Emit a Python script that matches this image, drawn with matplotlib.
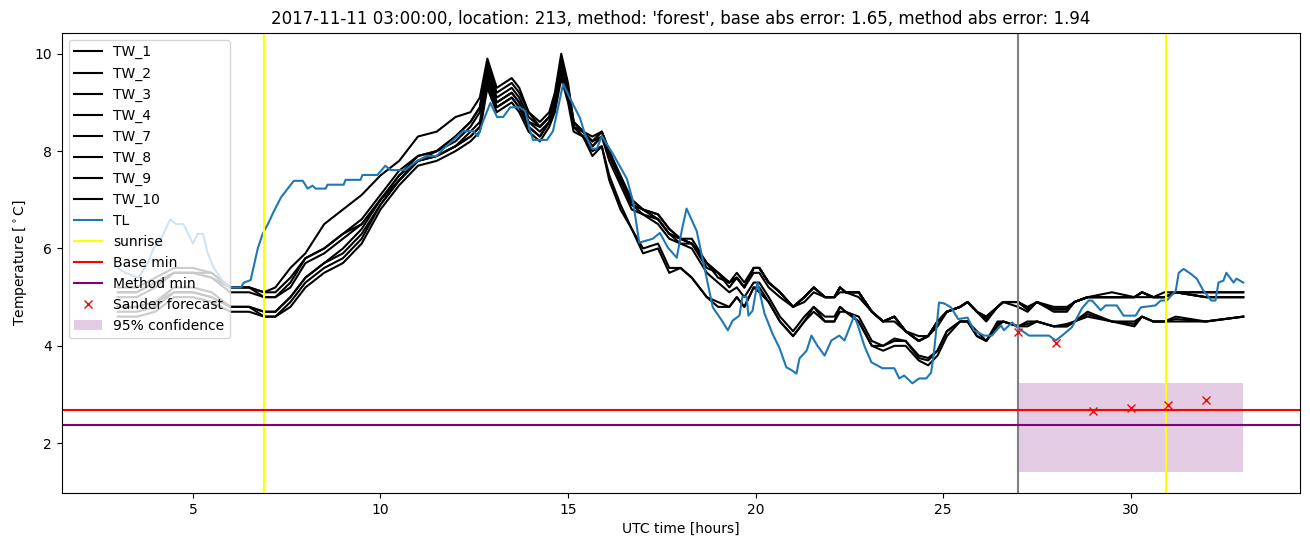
import numpy as np
import matplotlib
matplotlib.use("Agg")
import matplotlib.pyplot as plt

# time grid (hours UTC) shared by the TW series
tw_hours = [3.0, 3.5, 4.0, 4.5, 5.0, 5.5, 6.0, 6.5, 6.9, 7.2,
            7.6, 8.0, 8.5, 9.0, 9.5, 10.0, 10.5, 11.0, 11.5, 12.0,
            12.4, 12.65, 12.85, 13.1, 13.3, 13.5, 13.7, 13.95, 14.25, 14.5,
            14.65, 14.82, 15.0, 15.15, 15.4, 15.65, 15.9, 16.1, 16.4, 16.7,
            17.0, 17.4, 17.7, 18.0, 18.3, 18.7, 19.0, 19.3, 19.5, 19.7,
            19.95, 20.1, 20.35, 20.65, 21.0, 21.3, 21.55, 21.85, 22.1, 22.25,
            22.4, 22.75, 23.1, 23.4, 23.7, 24.0, 24.35, 24.6, 24.85, 25.1,
            25.45, 25.65, 25.9, 26.15, 26.45, 26.6, 27.0, 27.25, 27.5, 27.95,
            28.3, 28.5, 28.85, 29.5, 30.1, 30.3, 30.6, 30.9, 31.2, 32.0,
            33.0]

tw_1 = [5.1, 5.1, 5.3, 5.5, 5.5, 5.5, 5.2, 5.2, 5.1, 5.2,
        5.6, 5.9, 6.5, 6.8, 7.1, 7.5, 7.8, 8.3, 8.4, 8.7,
        8.8, 9.1, 9.9, 9.3, 9.4, 9.5, 9.3, 8.8, 8.6, 8.8,
        9.2, 10.0, 9.4, 8.6, 8.4, 8.3, 8.4, 8.0, 7.5, 7.0,
        6.8, 6.7, 6.4, 6.2, 6.2, 5.7, 5.5, 5.2, 5.4, 5.2,
        5.6, 5.6, 5.3, 5.1, 4.8, 5.0, 5.2, 5.0, 5.0, 5.2,
        5.1, 5.1, 4.7, 4.5, 4.6, 4.3, 4.1, 4.2, 4.5, 4.7,
        4.8, 4.9, 4.7, 4.6, 4.8, 4.9, 4.9, 4.75, 4.9, 4.75,
        4.75, 4.9, 5.0, 5.1, 5.0, 5.1, 5.0, 5.1, 5.1, 5.1,
        5.1]
tw_2 = [5.0, 5.0, 5.2, 5.5, 5.5, 5.4, 5.2, 5.2, 5.0, 5.0,
        5.3, 5.8, 6.0, 6.3, 6.6, 7.1, 7.6, 7.9, 8.0, 8.3,
        8.6, 8.9, 9.7, 9.1, 9.2, 9.3, 9.1, 8.7, 8.5, 8.7,
        9.1, 9.9, 9.3, 8.6, 8.4, 8.2, 8.4, 8.0, 7.4, 6.9,
        6.8, 6.6, 6.3, 6.2, 6.1, 5.7, 5.5, 5.3, 5.4, 5.2,
        5.6, 5.6, 5.3, 5.1, 4.8, 5.0, 5.2, 5.0, 5.0, 5.2,
        5.1, 5.1, 4.7, 4.5, 4.6, 4.3, 4.1, 4.2, 4.5, 4.7,
        4.8, 4.9, 4.7, 4.55, 4.8, 4.9, 4.9, 4.75, 4.9, 4.75,
        4.75, 4.9, 5.0, 5.0, 5.0, 5.1, 5.0, 5.0, 5.1, 5.0,
        5.0]
tw_3 = [5.1, 5.1, 5.3, 5.5, 5.5, 5.4, 5.1, 5.1, 5.0, 5.0,
        5.2, 5.7, 5.9, 6.2, 6.5, 7.0, 7.5, 7.8, 8.0, 8.2,
        8.5, 8.8, 9.6, 9.0, 9.1, 9.2, 9.0, 8.6, 8.5, 8.7,
        9.0, 9.8, 9.2, 8.5, 8.4, 8.2, 8.3, 7.9, 7.4, 6.9,
        6.7, 6.6, 6.3, 6.1, 6.1, 5.7, 5.4, 5.3, 5.4, 5.2,
        5.5, 5.5, 5.2, 5.0, 4.8, 4.9, 5.1, 5.0, 5.0, 5.1,
        5.1, 5.0, 4.7, 4.5, 4.5, 4.3, 4.1, 4.2, 4.4, 4.7,
        4.8, 4.9, 4.7, 4.5, 4.8, 4.9, 4.8, 4.7, 4.9, 4.7,
        4.7, 4.9, 5.0, 5.0, 5.0, 5.0, 5.0, 5.0, 5.1, 5.0,
        5.0]
tw_4 = [4.8, 4.8, 4.9, 5.2, 5.2, 5.1, 4.8, 4.8, 4.7, 4.7,
        5.0, 5.4, 5.7, 5.9, 6.3, 6.9, 7.4, 7.8, 7.9, 8.1,
        8.3, 8.5, 9.4, 8.9, 9.0, 9.1, 8.9, 8.5, 8.3, 8.6,
        8.9, 9.6, 9.1, 8.5, 8.3, 8.1, 8.3, 7.9, 7.4, 6.9,
        6.8, 6.6, 6.3, 6.2, 6.1, 5.6, 5.5, 5.3, 5.4, 5.2,
        5.6, 5.6, 5.3, 5.1, 4.8, 5.0, 5.2, 5.0, 5.0, 5.2,
        5.1, 5.1, 4.7, 4.5, 4.6, 4.3, 4.1, 4.2, 4.5, 4.7,
        4.8, 4.9, 4.7, 4.55, 4.8, 4.9, 4.9, 4.75, 4.9, 4.75,
        4.75, 4.9, 5.0, 5.0, 5.0, 5.1, 5.0, 5.0, 5.1, 5.0,
        5.0]
tw_7 = [4.7, 4.7, 4.8, 5.1, 5.1, 5.0, 4.8, 4.8, 4.6, 4.6,
        4.9, 5.3, 5.6, 5.8, 6.2, 6.9, 7.4, 7.8, 7.9, 8.1,
        8.3, 8.5, 9.4, 8.9, 9.0, 9.1, 8.9, 8.5, 8.3, 8.6,
        8.9, 9.6, 9.1, 8.5, 8.3, 8.0, 8.1, 7.5, 6.9, 6.4,
        6.0, 6.1, 5.6, 5.6, 5.4, 5.0, 4.9, 4.8, 5.0, 4.8,
        5.2, 5.2, 4.9, 4.5, 4.2, 4.5, 4.8, 4.5, 4.5, 4.8,
        4.7, 4.5, 4.0, 4.0, 4.1, 4.1, 3.75, 3.7, 3.9, 4.3,
        4.5, 4.5, 4.2, 4.1, 4.45, 4.5, 4.4, 4.45, 4.5, 4.4,
        4.45, 4.5, 4.65, 4.5, 4.45, 4.6, 4.5, 4.5, 4.55, 4.5,
        4.6]
tw_8 = [4.6, 4.6, 4.7, 5.0, 5.0, 4.9, 4.7, 4.7, 4.6, 4.6,
        4.8, 5.2, 5.5, 5.7, 6.1, 6.8, 7.3, 7.7, 7.8, 8.0,
        8.2, 8.4, 9.3, 8.8, 8.9, 9.0, 8.8, 8.4, 8.2, 8.5,
        8.8, 9.5, 9.0, 8.4, 8.3, 7.9, 8.1, 7.4, 6.8, 6.4,
        5.9, 6.0, 5.5, 5.6, 5.4, 5.0, 4.8, 4.8, 5.0, 4.8,
        5.2, 5.1, 4.9, 4.5, 4.2, 4.5, 4.7, 4.5, 4.5, 4.7,
        4.7, 4.5, 4.0, 3.9, 4.0, 4.0, 3.7, 3.6, 3.8, 4.2,
        4.5, 4.5, 4.2, 4.1, 4.4, 4.5, 4.4, 4.4, 4.5, 4.4,
        4.4, 4.5, 4.6, 4.5, 4.5, 4.6, 4.5, 4.5, 4.5, 4.5,
        4.6]
tw_9 = [4.8, 4.8, 4.9, 5.1, 5.1, 5.0, 4.8, 4.8, 4.7, 4.7,
        5.0, 5.4, 5.7, 6.0, 6.4, 7.0, 7.4, 7.8, 7.9, 8.1,
        8.4, 8.6, 9.5, 9.0, 9.1, 9.2, 9.0, 8.6, 8.4, 8.6,
        8.9, 9.7, 9.2, 8.5, 8.4, 8.1, 8.3, 7.8, 7.3, 6.8,
        6.7, 6.5, 6.2, 6.1, 6.0, 5.5, 5.3, 5.1, 5.2, 5.0,
        5.3, 5.3, 5.0, 4.6, 4.3, 4.6, 4.8, 4.6, 4.6, 4.8,
        4.7, 4.6, 4.1, 4.0, 4.15, 4.1, 3.8, 3.75, 3.9, 4.3,
        4.5, 4.5, 4.3, 4.1, 4.5, 4.5, 4.4, 4.5, 4.5, 4.4,
        4.4, 4.5, 4.7, 4.5, 4.4, 4.6, 4.5, 4.5, 4.6, 4.5,
        4.6]
tw_10 = [5.2, 5.2, 5.4, 5.6, 5.6, 5.5, 5.2, 5.2, 5.1, 5.1,
         5.4, 5.8, 6.0, 6.3, 6.5, 7.0, 7.5, 7.9, 8.0, 8.3,
         8.6, 8.9, 9.8, 9.2, 9.3, 9.4, 9.2, 8.8, 8.5, 8.7,
         9.1, 9.9, 9.3, 8.6, 8.4, 8.2, 8.4, 8.0, 7.4, 7.0,
         6.8, 6.7, 6.4, 6.2, 6.1, 5.7, 5.5, 5.3, 5.5, 5.3,
         5.6, 5.6, 5.3, 5.1, 4.8, 5.0, 5.2, 5.0, 5.0, 5.2,
         5.1, 5.1, 4.7, 4.5, 4.6, 4.3, 4.2, 4.2, 4.5, 4.7,
         4.8, 4.9, 4.7, 4.6, 4.8, 4.9, 4.9, 4.8, 4.9, 4.8,
         4.8, 4.9, 5.0, 5.0, 5.0, 5.1, 5.0, 5.0, 5.1, 5.1,
         5.1]

tw_names = ["TW_1", "TW_2", "TW_3", "TW_4", "TW_7", "TW_8", "TW_9", "TW_10"]
tw_series = [tw_1, tw_2, tw_3, tw_4, tw_7, tw_8, tw_9, tw_10]

# TL (air temperature)
tl_hours = [3.0, 3.2, 3.55, 3.8, 3.95, 4.15, 4.4, 4.55, 4.75, 5.0,
            5.13, 5.27, 5.4, 5.56, 5.82, 6.0, 6.28, 6.36, 6.54, 6.73,
            6.86, 7.0, 7.15, 7.35, 7.5, 7.69, 7.93, 8.06, 8.19, 8.27,
            8.54, 8.59, 9.02, 9.07, 9.47, 9.52, 9.92, 10.13, 10.27, 10.66,
            10.8, 10.98, 11.25, 11.5, 11.68, 11.86, 12.2, 12.47, 12.6, 12.74,
            12.93, 13.11, 13.27, 13.46, 13.72, 13.86, 13.99, 14.07, 14.44, 14.6,
            14.87, 15.05, 15.32, 15.45, 15.64, 15.77, 15.9, 16.2, 16.57, 16.73,
            16.9, 17.26, 17.45, 17.66, 17.9, 18.03, 18.16, 18.43, 18.7, 18.86,
            19.1, 19.26, 19.39, 19.57, 19.65, 19.76, 19.81, 19.92, 20.05, 20.24,
            20.45, 20.64, 20.82, 20.96, 21.09, 21.17, 21.36, 21.49, 21.65, 21.84,
            22.02, 22.23, 22.37, 22.63, 22.71, 22.9, 23.09, 23.24, 23.38, 23.7,
            23.83, 23.96, 24.18, 24.36, 24.55, 24.68, 24.76, 24.89, 25.03, 25.21,
            25.4, 25.65, 25.82, 26.09, 26.3, 26.54, 26.62, 26.84, 26.97, 27.29,
            27.82, 28.0, 28.17, 28.43, 28.7, 28.88, 28.97, 29.2, 29.33, 29.63,
            29.81, 30.13, 30.27, 30.66, 30.8, 30.96, 31.2, 31.28, 31.41, 31.6,
            31.76, 31.94, 32.15, 32.26, 32.34, 32.47, 32.55, 32.74, 32.82, 33.0]
tl_temp = [5.6, 5.5, 5.4, 5.7, 6.0, 6.2, 6.6, 6.5, 6.5, 6.1,
           6.3, 6.3, 5.9, 5.6, 5.3, 5.2, 5.2, 5.3, 5.35, 6.0,
           6.3, 6.5, 6.75, 7.05, 7.2, 7.39, 7.39, 7.23, 7.29, 7.23,
           7.23, 7.31, 7.31, 7.41, 7.41, 7.51, 7.51, 7.7, 7.61, 7.61,
           7.7, 7.8, 7.9, 7.9, 8.05, 8.17, 8.41, 8.41, 8.31, 8.62,
           8.99, 8.7, 8.7, 8.9, 8.9, 8.82, 8.41, 8.23, 8.23, 8.41,
           9.38, 9.09, 8.68, 8.35, 8.05, 8.05, 8.31, 7.94, 7.43, 6.98,
           6.12, 6.2, 6.32, 6.02, 5.81, 6.36, 6.82, 6.36, 5.38, 4.79,
           4.52, 4.32, 4.52, 4.62, 5.01, 5.01, 4.62, 4.72, 5.3, 4.66,
           4.25, 3.95, 3.56, 3.5, 3.43, 3.74, 3.9, 4.21, 4.0, 3.8,
           4.11, 4.21, 4.11, 4.62, 4.46, 4.0, 3.66, 3.6, 3.54, 3.54,
           3.33, 3.39, 3.23, 3.33, 3.33, 3.45, 3.9, 4.89, 4.87, 4.79,
           4.55, 4.58, 4.32, 4.21, 4.21, 4.42, 4.32, 4.48, 4.38, 4.21,
           4.21, 4.11, 4.21, 4.38, 4.77, 4.93, 4.93, 4.73, 4.83, 4.83,
           4.62, 4.62, 4.79, 4.83, 4.93, 4.93, 5.13, 5.5, 5.58, 5.48,
           5.38, 5.13, 4.93, 4.93, 5.3, 5.34, 5.5, 5.3, 5.38, 5.3]

sunrise_hours = [6.9, 30.95]
forecast_start = 27.0
forecast_end = 33.0
base_min = 2.68
method_min = 2.37
sander_hours = [27, 28, 29, 30, 31, 32]
sander_temp = [4.29, 4.06, 2.66, 2.72, 2.78, 2.88]
conf_low = 1.41
conf_high = 3.23

fig = plt.figure(figsize=(13.1, 5.47), dpi=100)
ax = plt.axes()
fig.subplots_adjust(left=0.047, right=0.992, top=0.94, bottom=0.099)

for name, vals in zip(tw_names, tw_series):
    ax.plot(tw_hours, vals, color="black", label=name)
ax.plot(tl_hours, tl_temp, color="tab:blue", label="TL")

ax.axvline(sunrise_hours[0], color="yellow", label="sunrise")
ax.axvline(sunrise_hours[1], color="yellow")
ax.axvline(forecast_start, color="grey")
ax.axhline(base_min, color="red", label="Base min")
ax.axhline(method_min, color="purple", label="Method min")
ax.plot(sander_hours, sander_temp, "x", color="red", label="Sander forecast")
ax.fill_between([forecast_start, forecast_end], conf_low, conf_high,
                color="purple", alpha=0.2, linewidth=0, label="95% confidence")

ax.set_xlim(1.5, 34.5)
ax.set_ylim(0.98, 10.43)
plt.title("2017-11-11 03:00:00, location: 213, method: 'forest', base abs error: 1.65, method abs error: 1.94")
plt.xlabel("UTC time [hours]")
plt.ylabel(r"Temperature [$^\circ$C]")
ax.legend(loc="upper left")
fig.savefig("out.png", dpi=100)
